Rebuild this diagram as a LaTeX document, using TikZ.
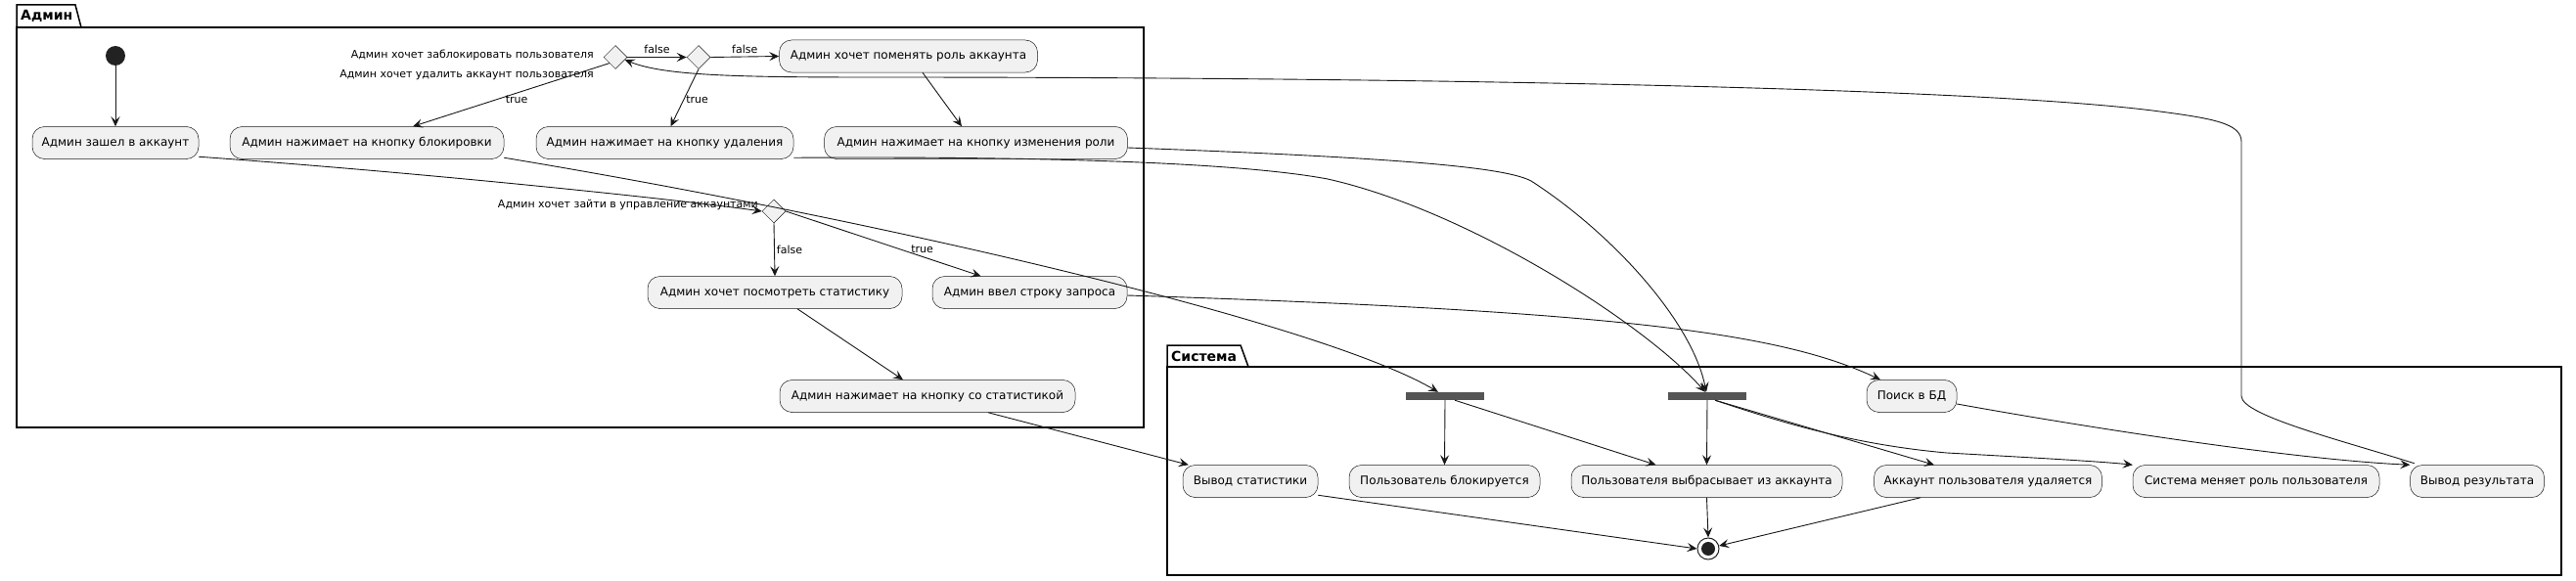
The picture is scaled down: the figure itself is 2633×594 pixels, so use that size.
\documentclass[tikz,border=0pt]{standalone}
\usepackage{fontspec}
\setmainfont{DejaVu Sans}
\usetikzlibrary{arrows.meta,shapes.geometric}
\definecolor{nfill}{HTML}{F1F1F1}
\definecolor{nline}{HTML}{181818}
\definecolor{barc}{HTML}{555555}
\definecolor{startc}{HTML}{222222}
\begin{document}
\begin{tikzpicture}[x=1pt,y=-1pt,
  act/.style={draw=nline, line width=0.5pt, fill=nfill, rounded corners=12.5pt, minimum height=33pt, inner xsep=8pt, font=\fontsize{12pt}{14pt}\selectfont, text=black},
  dec/.style={diamond, draw=nline, line width=0.5pt, fill=nfill, minimum width=24pt, minimum height=24pt, inner sep=0pt},
  forkbar/.style={fill=barc, minimum width=80pt, minimum height=8pt, inner sep=0pt},
  pkg/.style={draw=black, line width=1.5pt},
  flow/.style={draw=nline, line width=0.9pt, -{Stealth[length=10pt,width=9pt,inset=4pt]}},
  lbl/.style={font=\fontsize{11pt}{13pt}\selectfont, inner sep=1pt, text=black},
  ptitle/.style={font=\fontsize{14pt}{16pt}\selectfont\bfseries, inner sep=0pt, anchor=west}
]
\useasboundingbox[fill=white] (0,0) rectangle (2633,594);

% packages
\draw[pkg] (17,28) rectangle (1169,437);
\draw[pkg] (17,28) -- (17,5) -- (77,5) -- (83,28);
\node[ptitle] (tadmin) at (21,16.5) {Админ};
\draw[pkg] (1193,375) rectangle (2618,588);
\draw[pkg] (1193,375) -- (1193,353) -- (1268,353) -- (1276,375);
\node[ptitle] (tsys) at (1197,364) {Система};

% Admin nodes
\node[circle, fill=startc, minimum size=20pt, inner sep=0pt] (start) at (118,57) {};
\node[act, minimum width=170pt] (zashel) at (118,146) {Админ зашел в аккаунт};
\node[act, minimum width=280pt] (blok) at (375,146) {Админ нажимает на кнопку блокировки};
\node[act, minimum width=263pt] (udal) at (679.5,146) {Админ нажимает на кнопку удаления};
\node[act, minimum width=310pt] (izm) at (997.5,146) {Админ нажимает на кнопку изменения роли};
\node[act, minimum width=264pt] (pomen) at (928.5,57.5) {Админ хочет поменять роль аккаунта};
\node[dec] (dec1) at (629,58.5) {};
\node[dec] (dec2) at (714,58.5) {};
\node[dec] (dec3) at (791,216) {};
\node[lbl, anchor=east] (q1) at (608,56) {Админ хочет заблокировать пользователя};
\node[lbl, anchor=east] (q2) at (608,77) {Админ хочет удалить аккаунт пользователя};
\node[lbl, anchor=east] (q3) at (776,209) {Админ хочет зайти в управление аккаунтами};
\node[act, minimum width=260pt] (posm) at (792,299) {Админ хочет посмотреть статистику};
\node[act, minimum width=199pt] (zapr) at (1052.5,299) {Админ ввел строку запроса};
\node[act, minimum width=302pt] (sostat) at (948,405) {Админ нажимает на кнопку со статистикой};

% System nodes
\node[forkbar] (bar1) at (1477,405) {};
\node[forkbar] (bar2) at (1745,405) {};
\node[act, minimum width=92pt] (poisk) at (1954,405) {Поиск в БД};
\node[act, minimum width=138pt] (vstat) at (1278,492) {Вывод статистики};
\node[act, minimum width=195pt] (polblok) at (1476.5,492) {Пользователь блокируется};
\node[act, minimum width=277pt] (vybr) at (1744.5,492) {Пользователя выбрасывает из аккаунта};
\node[act, minimum width=233pt] (udalsys) at (2032,492) {Аккаунт пользователя удаляется};
\node[act, minimum width=252pt] (smena) at (2306,492) {Система меняет роль пользователя};
\node[act, minimum width=137pt] (vres) at (2532,492) {Вывод результата};
\node[circle, draw=startc, line width=1pt, fill=white, minimum size=22pt, inner sep=0pt] (fin) at (1746,561) {};
\fill[startc] (fin.center) circle[radius=7pt];

% edges in Admin
\draw[flow] (start) -- (zashel);
\draw[flow] ([yshift=2.5pt]zashel.south east) .. controls (450,178) and (700,205) .. (dec3.west);
\draw[flow] (dec1.east) -- node[lbl, anchor=south, yshift=2pt] {false} (dec2.west);
\draw[flow] (dec2.east) -- node[lbl, anchor=south, yshift=2pt] {false} (pomen.west);
\draw[flow] (dec1.south west) -- node[lbl, pos=0.58, anchor=west, xshift=9pt] {true} ([xshift=47pt]blok.north);
\draw[flow] (dec2.south) -- node[lbl, pos=0.53, anchor=west, xshift=1pt] {true} ([xshift=6pt]udal.north);
\draw[flow] ([xshift=14.5pt]pomen.south) -- ([xshift=-14.5pt]izm.north);
\draw[flow] (dec3.south) -- node[lbl, pos=0.5, anchor=west, xshift=1pt] {false} (posm.north);
\draw[flow] (dec3.east) -- node[lbl, pos=0.59, anchor=west, xshift=9pt] {true} ([xshift=-50pt]zapr.north);
\draw[flow] ([xshift=23pt]posm.south) -- ([xshift=-25pt]sostat.north);

% loop back
\draw[flow] ([xshift=4.5pt,yshift=1.5pt]vres.north west) .. controls (2400,452) and (2291,425) .. (2291,405) -- (2291,145) .. controls (2291,126) and (2262,121) .. (2200,113) .. controls (2000,88) and (1400,79) .. (900,79) .. controls (760,79) and (680,78) .. (dec1.-15);

% cross edges
\draw[flow] ([yshift=1.5pt]blok.south east) .. controls (900,225) and (1350,330) .. ([xshift=-7pt]bar1.north);
\draw[flow] ([yshift=1.5pt]udal.south east) .. controls (1000,160) and (1250,163) .. (1357,183) .. controls (1500,215) and (1680,330) .. ([xshift=-2pt]bar2.north);
\draw[flow] ([yshift=-5pt]izm.east) .. controls (1450,162) and (1540,172) .. (1565,185) .. controls (1650,240) and (1730,330) .. ([xshift=-1pt]bar2.north);
\draw[flow] ([xshift=62pt]sostat.south) -- ([xshift=6pt]vstat.north west);
\draw[flow] ([yshift=-3pt]zapr.east) .. controls (1650,318) and (1820,340) .. ([xshift=-32pt]poisk.north);

% system edges
\draw[flow] (bar1.south) -- (polblok.north);
\draw[flow] ([xshift=10pt]bar1.south) -- ([xshift=-52pt]vybr.north);
\draw[flow] (bar2.south) -- (vybr.north);
\draw[flow] ([xshift=8pt]bar2.south) -- ([xshift=-55pt]udalsys.north);
\draw[flow] ([xshift=8pt]bar2.south) .. controls (1830,435) and (1900,455) .. (1990,463) .. controls (2080,468) and (2150,472) .. (smena.north west);
\draw[flow] ([yshift=-8pt]poisk.east) .. controls (2150,440) and (2350,470) .. (vres.north west);
\draw[flow] ([yshift=2.5pt]vstat.south east) -- (fin.west);
\draw[flow] (vybr.south) -- (fin.north);
\draw[flow] ([xshift=-69pt]udalsys.south) -- (fin.15);
\end{tikzpicture}
\end{document}
